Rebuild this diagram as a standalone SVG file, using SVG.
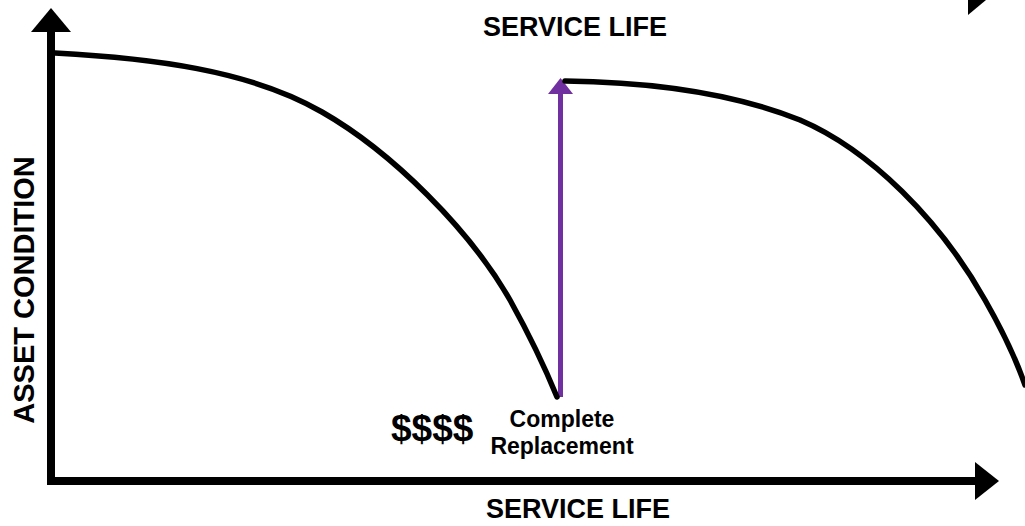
<svg xmlns="http://www.w3.org/2000/svg" width="1025" height="526" viewBox="0 0 1025 526">
<style>
.lbl{font-family:"Liberation Sans",Arial,sans-serif;font-weight:bold;fill:#000}
.curve{fill:none;stroke:#000;stroke-width:5.5;stroke-linecap:round;stroke-linejoin:round}
.axis{stroke:#000;stroke-width:8;fill:none}
</style>
<rect width="1025" height="526" fill="#fff"/>
<g id="connectors">
  <line class="axis" x1="51" y1="28" x2="51" y2="485"/>
  <polygon points="51,8 31,32 71,32" fill="#000"/>
  <line class="axis" x1="47" y1="481" x2="977" y2="481"/>
  <polygon points="999,481 975,462 975,500" fill="#000"/>
  <polygon points="968,0 986,0 968,15" fill="#000"/>
  <line x1="560.5" y1="397" x2="560.5" y2="92" stroke="#7030A0" stroke-width="5"/>
  <polygon points="560.5,78 548,94 573,94" fill="#7030A0"/>
</g>
<g id="curve1">
  <path class="curve" d="M55,53 C150,58 250,70 322,112 C392,152 470,230 510,300 C535,345 548,375 557,397"/>
</g>
<g id="curve2">
  <path class="curve" d="M565,81 C650,82 730,92 800,120 C870,150 940,220 985,300 C1005,335 1018,365 1025,385"/>
</g>
<g id="title-top"><text class="lbl" x="575" y="36" font-size="27" text-anchor="middle">SERVICE LIFE</text></g>
<g id="title-bottom"><text class="lbl" x="578" y="518" font-size="27" text-anchor="middle">SERVICE LIFE</text></g>
<g id="y-label"><text class="lbl" font-size="29" text-anchor="middle" transform="translate(34,290) rotate(-90)">ASSET CONDITION</text></g>
<g id="cost"><text class="lbl" x="391" y="441" font-size="37">$$$$</text></g>
<g id="replacement">
  <text class="lbl" x="562" y="427" font-size="23" text-anchor="middle">Complete</text>
  <text class="lbl" x="562" y="454" font-size="23" text-anchor="middle">Replacement</text>
</g>
</svg>
